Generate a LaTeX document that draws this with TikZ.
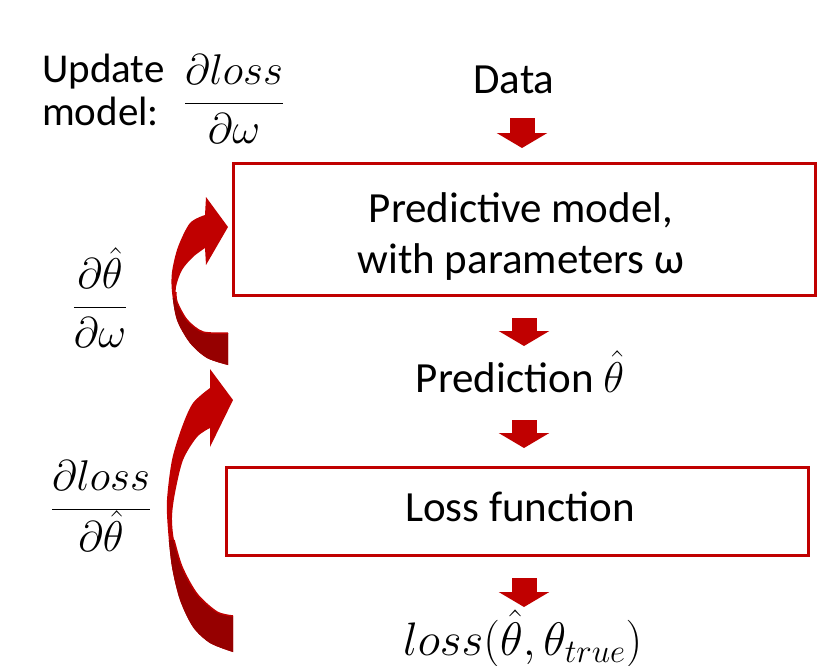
\RequirePackage{fix-cm}
\documentclass[tikz,border=0pt]{standalone}
\usepackage{fontspec}
\setmainfont{Carlito}
\usetikzlibrary{arrows.meta,calc}
\definecolor{pptred}{RGB}{192,0,0}
\definecolor{pptdark}{RGB}{150,0,0}
\newcommand\curvApath{plot[smooth] coordinates {(228,333) (203,332) (187,320) (177,302) (176,287) (182,270) (193,257) (205,248)} -- (206,265) -- (228,227) -- (206,197) -- plot[smooth] coordinates {(205,215) (190,223) (178,247) (172,272) (172,292) (177,320) (190,343) (207,358) (228,365)} -- cycle}
\newcommand\curvBpath{plot[smooth] coordinates {(233,616) (217,612) (197,594) (182,567) (174,540) (172,517) (175,493) (183,460) (197,437) (210,428)} -- (210,447) -- (233,400) -- (210,369) -- plot[smooth] coordinates {(210,388) (193,403) (182,427) (172,460) (167,500) (168,530) (172,567) (180,600) (193,627) (210,643) (233,652)} -- cycle}
\begin{document}
\begin{tikzpicture}[x=1pt,y=-1pt,
  box/.style={draw=pptred, line width=3pt, inner sep=0pt, minimum width=582pt},
  txt/.style={font=\fontsize{43}{51}\selectfont, inner sep=0pt},
  smalltxt/.style={font=\fontsize{41}{48}\selectfont, inner sep=0pt},
  bigmath/.style={font=\fontsize{47}{56}\selectfont, inner sep=0pt},
  blockarrow/.style={draw=pptred, line width=25pt, -{Triangle[width=50pt,length=15pt]}}]
\useasboundingbox (0,0) rectangle (819,665);

% boxes
\node[box, minimum height=132pt] (box1) at (524,229) {};
\node[box, minimum height=88pt] (box2) at (517,511) {};

% texts
\node[smalltxt, anchor=base west] (update) at (42,82) {Update};
\node[smalltxt, anchor=base west] (model) at (42,125) {model:};
\node[txt, anchor=base] (fracw) at (234,114) {$\displaystyle\frac{\partial loss}{\partial \omega}$};
\node[txt, anchor=base] (data) at (514,93) {Data};
\node[txt, align=center] (box1text) at (521,237) {Predictive model,\\with parameters ω};
\node[txt, anchor=base] (pred) at (520,392) {Prediction $\hat{\theta}$};
\node[txt, anchor=base] (lossf) at (520,521) {Loss function};
\node[bigmath, anchor=base west] (lossval) at (403,655) {$loss(\hat{\theta},\theta_{true})$};
\node[txt, anchor=base] (fracth) at (100,318) {$\displaystyle\frac{\partial \hat{\theta}}{\partial \omega}$};
\node[txt, anchor=base] (fracloss) at (101,520) {$\displaystyle\frac{\partial loss}{\partial \hat{\theta}}$};

% block arrows
\coordinate (a1s) at (522,118); \coordinate (a1e) at (522,148);
\coordinate (a2s) at (524,318); \coordinate (a2e) at (524,346);
\coordinate (a3s) at (524,420); \coordinate (a3e) at (524,448);
\coordinate (a4s) at (524,578); \coordinate (a4e) at (524,607);
\draw[blockarrow] (a1s) -- (a1e);
\draw[blockarrow] (a2s) -- (a2e);
\draw[blockarrow] (a3s) -- (a3e);
\draw[blockarrow] (a4s) -- (a4e);

% curved arrows
\fill[pptred] \curvApath;
\begin{scope}
  \clip (150,298) rectangle (240,370);
  \fill[pptdark] \curvApath;
\end{scope}
\draw[pptred, line width=1.5pt] plot[smooth] coordinates {(228,333) (203,332) (187,320) (177,302) (176,292)};

\fill[pptred] \curvBpath;
\begin{scope}
  \clip (150,540) rectangle (240,660);
  \fill[pptdark] \curvBpath;
\end{scope}
\draw[pptred, line width=1.5pt] plot[smooth] coordinates {(233,616) (217,612) (197,594) (182,567) (174,540)};
\end{tikzpicture}
\end{document}
